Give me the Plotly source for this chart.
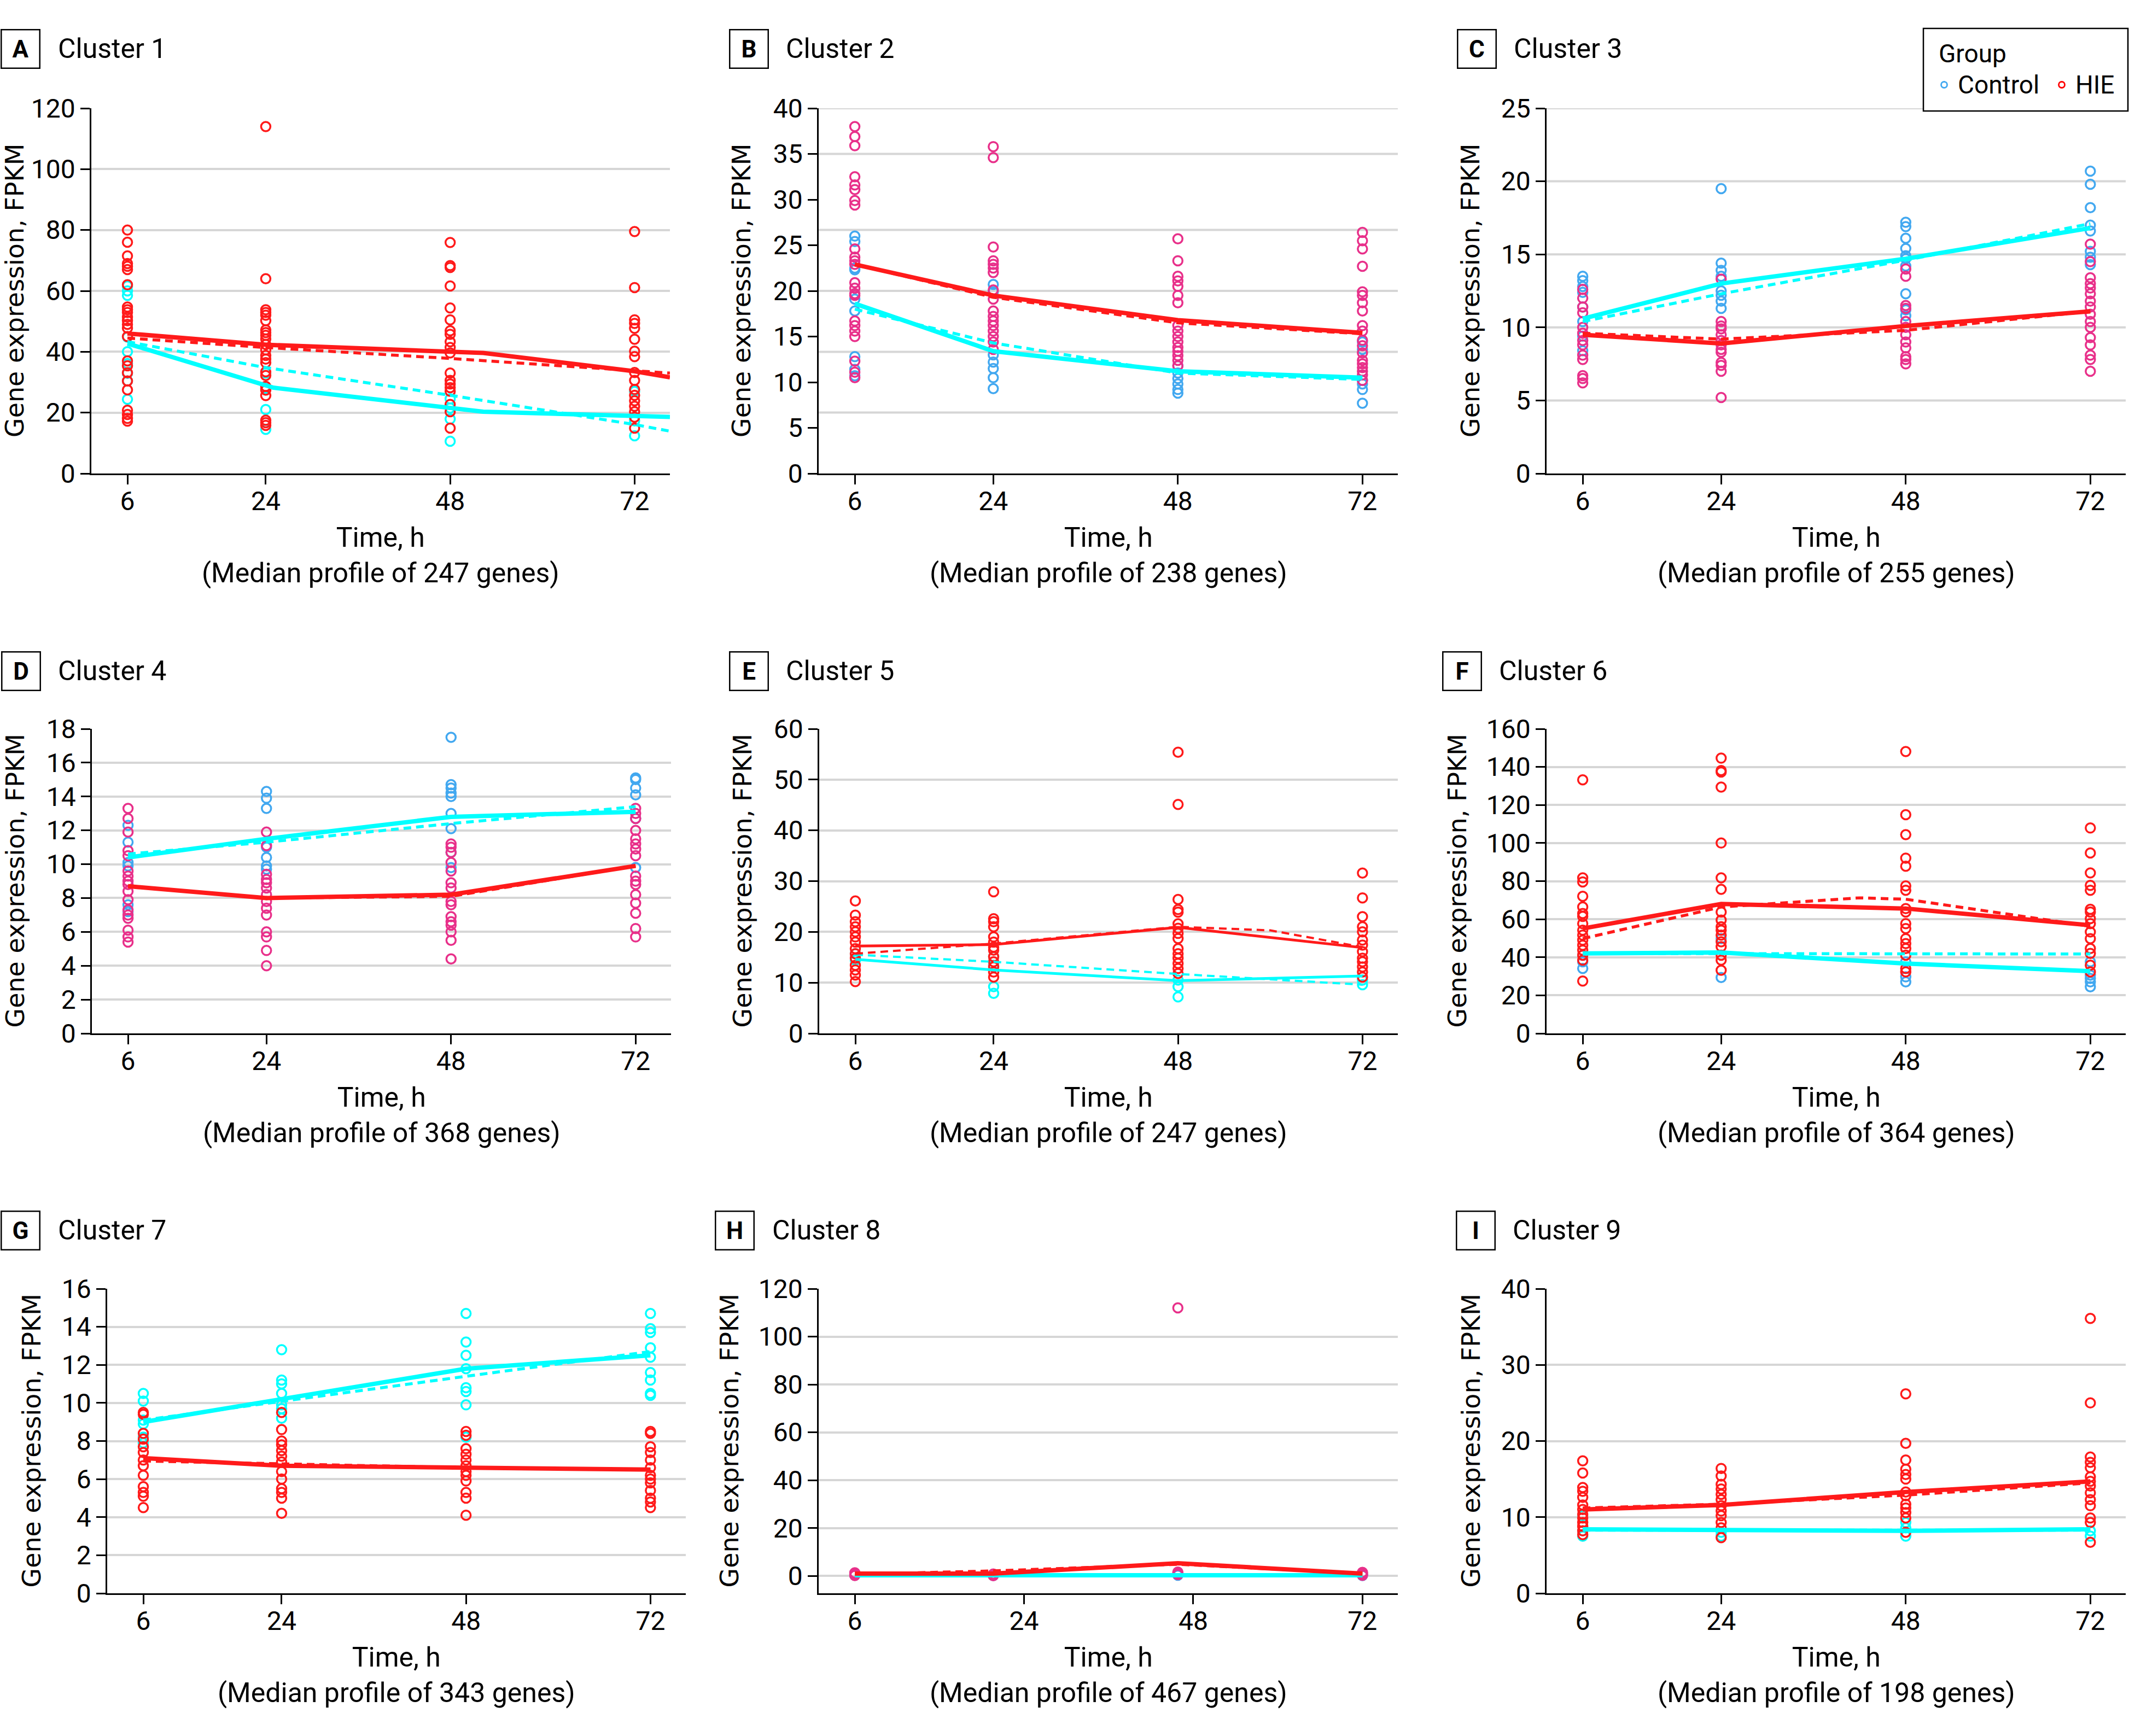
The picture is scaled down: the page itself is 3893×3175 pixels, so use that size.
import plotly.graph_objects as go

W, H = 3893, 3175
TIMES = [6, 24, 48, 72]

# ---------------- DATA ----------------
# Cluster 1 (A)
c1_ctrl = [[61.6, 60, 58.5, 44.8, 40, 36.1, 32.9, 30.4, 24.4],
           [33, 28, 21, 14.5],
           [24.5, 21.5, 17.9, 10.6],
           [27, 17.3, 12.4]]
c1_hie = [[80, 76, 71.5, 69, 68.1, 67, 62, 54.7, 53.8, 52.9, 51.4, 50.2, 49, 47.8, 45, 37, 35.4, 33.1, 30.4, 27.5, 20.8, 19.4, 18.1, 17.2],
          [114, 64, 53.8, 52.9, 52, 50.2, 47.2, 46.3, 45.4, 44.2, 42.4, 40.6, 38.8, 37.6, 36.4, 33.4, 32.2, 28.6, 27.4, 25.6, 17.5, 16.7, 15.8],
          [75.9, 68.3, 67.7, 61.6, 54.4, 50.5, 46.9, 45.7, 43.3, 41.4, 39.6, 33, 30.6, 29.4, 28.2, 27, 22.7, 20.3, 14.9],
          [79.5, 61.1, 50.5, 49.3, 47.7, 44.1, 40.2, 38.4, 33.2, 30.6, 27.6, 25.7, 23.9, 22.1, 20.3, 18.5, 14.9]]
c1_hie_solid_t = [6, 24, 52.3, 72, 76.6]
c1_hie_solid = [46, 42.3, 39.6, 33.6, 31.6]
c1_hie_dash_t = [6, 24, 48, 72, 76.6]
c1_hie_dash = [44.5, 41.4, 37.8, 33.8, 33.0]
c1_ctrl_solid_t = [6, 25, 52.3, 72, 76.6]
c1_ctrl_solid = [42.7, 28.2, 20.3, 19.1, 18.6]
c1_ctrl_dash_t = [6, 24, 48, 72, 76.6]
c1_ctrl_dash = [43.3, 34.8, 25.7, 16.1, 13.9]

# Cluster 2 (B)
c2_ctrl = [[26, 25.4, 22.5, 22.3, 19.1, 17.8, 12.8, 11.4, 10.7],
           [20.7, 19.9, 13, 12.2, 11.5, 10.5, 9.3],
           [11.8, 11, 10.4, 9.8, 9.2, 8.8],
           [14.4, 13.6, 10.2, 9.8, 9.2, 7.7]]
c2_hie = [[38, 36.9, 35.9, 32.5, 31.6, 31.1, 29.9, 29.4, 24.6, 23.7, 23.3, 22.9, 20.9, 20.3, 19.7, 19.5, 16.7, 16.2, 15.6, 15, 12.3, 11.1, 10.5],
          [35.8, 34.6, 24.8, 23.3, 22.9, 22.5, 22, 20.1, 19.1, 17.8, 17.2, 16.7, 16.2, 15.6, 15, 14.4, 13.6],
          [25.7, 23.3, 21.6, 21.1, 20.5, 19.5, 18.7, 16.2, 15.6, 15, 14.4, 13.8, 13.4, 12.9, 12.4, 11.8],
          [26.4, 25.5, 24.6, 22.7, 19.9, 19.5, 18.7, 17.8, 16.2, 15.6, 14.6, 14, 13.2, 12.4, 12, 11.6, 11.2, 10.8, 10.2]]
c2_hie_solid = [22.9, 19.5, 16.8, 15.4]
c2_hie_dash = [22.9, 19.3, 16.5, 15.3]
c2_ctrl_solid = [18.6, 13.4, 11.2, 10.5]
c2_ctrl_dash = [18.0, 14.3, 11.0, 10.3]
c2_grid = [40, 35, 26.67, 20, 13.33, 6.67]

# Cluster 3 (C)
c3_ctrl = [[13.5, 13.2, 12.8, 12.4, 11.4, 10.4, 9.4, 8.4],
           [19.5, 14.4, 13.9, 13.5, 12.5, 12.2, 11.8, 11.3],
           [17.2, 16.9, 16.1, 15.4, 14.9, 14.7, 14.2, 12.3, 11.2, 10.8],
           [20.7, 19.8, 18.2, 17, 16.6, 15.2, 14.8, 14.3]]
c3_hie = [[12.6, 12, 11.4, 11, 10, 9.6, 9.1, 8.8, 8.1, 7.8, 6.7, 6.5, 6.2],
          [13.3, 10.4, 10.1, 9.9, 9.5, 9.1, 8.8, 8.5, 8.3, 7.6, 7.4, 7, 5.2],
          [14, 13.5, 11.5, 11.3, 10.4, 10, 9.5, 9, 8.6, 8, 7.8, 7.5],
          [15.7, 14.5, 13.4, 13, 12.7, 12.3, 11.8, 11.4, 10.9, 10.4, 10, 9.3, 8.8, 8.1, 7.8, 7]]
c3_ctrl_solid = [10.6, 13.0, 14.7, 16.8]
c3_ctrl_dash = [10.4, 12.3, 14.6, 17.1]
c3_hie_solid = [9.5, 8.9, 10.1, 11.1]
c3_hie_dash = [9.6, 9.2, 9.8, 11.1]
c3_grid = [5, 10, 15, 20, 25]

# Cluster 4 (D)
c4_ctrl = [[12.3, 11.3, 10.1, 9.9, 7.6, 7.2],
           [14.3, 13.9, 13.3, 11, 10.4, 9.9, 9.7],
           [17.5, 14.7, 14.5, 14.2, 14, 13, 12.1, 10.7, 9.8],
           [15.1, 15, 14.5, 14.1, 12.7, 9.8]]
c4_hie = [[13.3, 12.7, 11.9, 10.8, 10.5, 9.6, 9.3, 9, 8.8, 8.4, 7.9, 7.3, 7, 6.8, 6.1, 5.7, 5.4],
          [11.9, 11.1, 9.4, 9.1, 8.9, 8.6, 8.2, 7.8, 7.4, 7, 6, 5.7, 4.9, 4],
          [11.2, 11, 10.7, 10.1, 9.6, 8.9, 8.6, 7.8, 7.6, 6.9, 6.6, 6.4, 6, 5.5, 4.4],
          [13.3, 13, 12.7, 12, 11.5, 11.2, 10.9, 10.5, 9.3, 9, 8.8, 8.2, 7.7, 7.1, 6.2, 5.7]]
c4_ctrl_solid = [10.4, 11.5, 12.8, 13.1]
c4_ctrl_dash = [10.6, 11.3, 12.4, 13.4]
c4_hie_solid = [8.7, 8.0, 8.2, 9.9]
c4_hie_dash = [8.7, 8.0, 8.1, 9.9]

# Cluster 5 (E)
c5_ctrl = [[15.7, 14.4], [15.1, 13.4, 9.2, 7.9], [10.5, 9.2, 7.2], [10.5, 9.6]]
c5_hie = [[26.1, 23.3, 22, 21, 20, 19, 18, 16.7, 15.7, 14.8, 13.4, 12.5, 11.5, 10.2],
          [27.9, 22.6, 22, 21, 19, 18, 17, 16.4, 15.1, 14.1, 13.1, 12.1, 11.1],
          [55.4, 45.1, 26.4, 24.4, 23.9, 21.6, 20.7, 19.7, 18.7, 16.7, 15.7, 14.8, 13.8, 12.8, 11.8],
          [31.6, 26.7, 23, 21, 20, 18.4, 17.4, 16.1, 14.8, 14.1, 13.1, 12.1, 11.1]]
c5_hie_solid = [17.2, 17.5, 20.9, 16.9]
c5_hie_dash_t = [6, 24, 48, 60, 72]
c5_hie_dash = [15.7, 17.7, 21.0, 20.3, 17.0]
c5_ctrl_solid = [14.6, 12.5, 10.4, 11.3]
c5_ctrl_dash = [15.5, 14.1, 11.7, 9.6]

# Cluster 6 (F)
c6_ctrl = [[41.1, 37.6, 34.1], [49.8, 29.4], [37.6, 29.7, 27.1], [37.6, 30.6, 28.9, 27.1, 24.5]]
c6_hie = [[133.2, 81.7, 79.6, 72, 66.4, 63, 61.5, 57.7, 54.2, 51.6, 49, 46.3, 43.7, 41.1, 38.5, 27.5],
          [144.6, 138.1, 137.3, 129.4, 100, 81.7, 75.7, 63.8, 59.5, 56, 54.2, 51.6, 48.1, 45.5, 41.1, 38.5, 33.2],
          [148.1, 114.9, 104.4, 92.1, 87.8, 77.5, 75.2, 65.6, 63.8, 57.7, 55.1, 49.8, 47.2, 44.6, 41.1, 34.1, 32.3],
          [107.9, 94.8, 84.3, 77.8, 75.2, 65.2, 63.8, 60.3, 57.7, 53.3, 49.8, 44.6, 42, 35.8, 32.3]]
c6_hie_solid = [55.1, 68.0, 65.6, 56.8]
c6_hie_dash_t = [6, 24, 42, 48, 72]
c6_hie_dash = [49.8, 66.4, 71.2, 70.5, 56.3]
c6_ctrl_solid = [42.0, 42.5, 36.7, 32.7]
c6_ctrl_dash = [42.0, 42.0, 41.8, 41.7]

# Cluster 7 (G)
c7_ctrl = [[10.5, 10.1, 9.1, 8.9, 8.2, 7.9],
           [12.8, 11.2, 11, 10.5, 9.9, 9.7, 9.2],
           [14.7, 13.2, 12.5, 11.8, 10.8, 10.6, 9.9, 8.2],
           [14.7, 13.9, 13.7, 12.9, 12.4, 11.6, 11.2, 10.5, 10.4]]
c7_hie = [[9.5, 9.4, 8.4, 8.1, 7.7, 7.4, 7, 6.7, 6.2, 5.6, 5.3, 5.1, 4.5],
          [9.5, 8.6, 8, 7.8, 7.5, 7.2, 6.9, 6.4, 6, 5.5, 5.3, 5, 4.2],
          [8.5, 8.3, 7.6, 7.3, 7, 6.7, 6.4, 6.2, 5.9, 5.3, 5, 4.1],
          [8.5, 8.4, 7.7, 7.4, 7, 6.6, 6.2, 6, 5.8, 5.4, 5, 4.8, 4.5]]
c7_ctrl_solid = [9.0, 10.2, 11.8, 12.5]
c7_ctrl_dash = [9.1, 10.1, 11.4, 12.7]
c7_hie_solid = [7.1, 6.7, 6.6, 6.5]
c7_hie_dash = [6.95, 6.8, 6.6, 6.5]

# Cluster 8 (H)
c8_ctrl = [[0.3, 0.6], [0.2, 0.4], [0.3, 0.7], [0.2, 0.5]]
c8_hie = [[0.2, 0.5, 0.9, 1.3], [0.1, 0.4, 0.8], [112, 0.6, 1.1, 1.6], [0.3, 0.7, 1.1, 1.5]]
c8_hie_solid = [1.0, 1.0, 5.3, 1.0]
c8_hie_dash = [0.7, 2.1, 4.9, 1.0]
c8_ctrl_solid = [0.3, 0.3, 0.3, 0.3]
c8_ctrl_dash = [0.2, 0.3, 0.3, 0.2]
c8_tickvals = [6, 28, 50, 72]

# Cluster 9 (I)
c9_ctrl = [[10.2, 8.2, 7.5], [8, 7.5], [9.3, 8.6, 7.5], [8.2, 7.5]]
c9_hie = [[17.4, 15.8, 13.9, 13.4, 12.6, 11.6, 11, 10.4, 9.9, 9.3, 8.8, 8.2, 7.7],
          [16.4, 15.4, 14.3, 13.7, 13, 12.3, 11.5, 10.8, 10.2, 9.3, 8.6, 7.3],
          [26.2, 19.7, 17.5, 16.3, 15.6, 15, 13.3, 12.8, 11.7, 11.2, 10.6, 9.9, 8],
          [36.1, 25, 17.9, 17.2, 16.5, 15.3, 14.7, 14.1, 13.2, 12.3, 11.5, 9.9, 9.3, 6.7]]
c9_hie_solid = [11.0, 11.6, 13.3, 14.7]
c9_hie_dash = [11.2, 11.7, 12.9, 14.5]
c9_ctrl_solid = [8.4, 8.3, 8.2, 8.4]
c9_ctrl_dash = [8.3, 8.3, 8.3, 8.3]

letters = ["A", "B", "C", "D", "E", "F", "G", "H", "I"]
titles = ["Cluster 1", "Cluster 2", "Cluster 3", "Cluster 4", "Cluster 5",
          "Cluster 6", "Cluster 7", "Cluster 8", "Cluster 9"]
gene_counts = [247, 238, 255, 368, 247, 364, 343, 467, 198]
y_max = [120, 40, 25, 18, 60, 160, 16, 120, 40]
y_step = [20, 5, 5, 2, 10, 20, 2, 20, 10]
legend_names = ["Control", "HIE"]

# ---------------- STYLE / LAYOUT ----------------
CYAN = "#00FFFF"
LBLUE = "#42A8F0"
RED = "#FF1A1A"
PINK = "#E8308A"
GRID = "#D6D6D6"
FONT = "Roboto"
YFONT = "DejaVu Sans"

# pixel boxes: (x0, x1, ytop, ybottom)
boxes = [(167, 1225, 198, 866), (1497, 2556, 198, 866), (2828, 3887, 198, 866),
         (168, 1227, 1333, 1890), (1498, 2556, 1333, 1890), (2828, 3887, 1333, 1890),
         (196, 1254, 2357, 2914), (1497, 2556, 2357, 2914), (2828, 3887, 2357, 2914)]
label_cx = [37, 1369, 2700, 38, 1369, 2673, 37, 1343, 2698]
title_x = [104, 1435, 2766, 104, 1435, 2739, 104, 1410, 2764]
row_label_y = [89, 89, 89, 1227, 1227, 1227, 2250, 2250, 2250]
ytitle_x = [27, 1356, 2689, 27, 1357, 2664, 57, 1333, 2689]
xtitle_off = 149
LEG = (3517, 3891, 52, 203)  # legend box in px: x0, x1, ytop, ybottom

point_colors = [(CYAN, RED), (LBLUE, PINK), (LBLUE, PINK),
                (LBLUE, PINK), (CYAN, RED), (LBLUE, RED),
                (CYAN, RED), (LBLUE, PINK), (CYAN, RED)]

panels = [
    dict(ctrl=c1_ctrl, hie=c1_hie,
         cs=(c1_ctrl_solid_t, c1_ctrl_solid), cd=(c1_ctrl_dash_t, c1_ctrl_dash),
         hs=(c1_hie_solid_t, c1_hie_solid), hd=(c1_hie_dash_t, c1_hie_dash)),
    dict(ctrl=c2_ctrl, hie=c2_hie, cs=(TIMES, c2_ctrl_solid), cd=(TIMES, c2_ctrl_dash),
         hs=(TIMES, c2_hie_solid), hd=(TIMES, c2_hie_dash)),
    dict(ctrl=c3_ctrl, hie=c3_hie, cs=(TIMES, c3_ctrl_solid), cd=(TIMES, c3_ctrl_dash),
         hs=(TIMES, c3_hie_solid), hd=(TIMES, c3_hie_dash)),
    dict(ctrl=c4_ctrl, hie=c4_hie, cs=(TIMES, c4_ctrl_solid), cd=(TIMES, c4_ctrl_dash),
         hs=(TIMES, c4_hie_solid), hd=(TIMES, c4_hie_dash)),
    dict(ctrl=c5_ctrl, hie=c5_hie, cs=(TIMES, c5_ctrl_solid), cd=(TIMES, c5_ctrl_dash),
         hs=(TIMES, c5_hie_solid), hd=(c5_hie_dash_t, c5_hie_dash)),
    dict(ctrl=c6_ctrl, hie=c6_hie, cs=(TIMES, c6_ctrl_solid), cd=(TIMES, c6_ctrl_dash),
         hs=(TIMES, c6_hie_solid), hd=(c6_hie_dash_t, c6_hie_dash)),
    dict(ctrl=c7_ctrl, hie=c7_hie, cs=(TIMES, c7_ctrl_solid), cd=(TIMES, c7_ctrl_dash),
         hs=(TIMES, c7_hie_solid), hd=(TIMES, c7_hie_dash)),
    dict(ctrl=c8_ctrl, hie=c8_hie, cs=(TIMES, c8_ctrl_solid), cd=(TIMES, c8_ctrl_dash),
         hs=(TIMES, c8_hie_solid), hd=(TIMES, c8_hie_dash)),
    dict(ctrl=c9_ctrl, hie=c9_hie, cs=(TIMES, c9_ctrl_solid), cd=(TIMES, c9_ctrl_dash),
         hs=(TIMES, c9_hie_solid), hd=(TIMES, c9_hie_dash)),
]


def px_x(v):
    return v / W


def px_y(v):
    return 1 - v / H


def pts(groups):
    xs, ys = [], []
    for t, vals in zip(TIMES, groups):
        xs += [t] * len(vals)
        ys += vals
    return xs, ys


fig = go.Figure()
annotations = []
shapes = []
layout = {}

for i, p in enumerate(panels):
    n = i + 1
    xa = "x" if n == 1 else f"x{n}"
    ya = "y" if n == 1 else f"y{n}"
    x0, x1, yt, yb = boxes[i]
    ccol, hcol = point_colors[i]
    solid_w = 5 if n == 5 else 8
    dash_w = 4 if n == 5 else 5.5

    cx, cy = pts(p["ctrl"])
    hx, hy = pts(p["hie"])
    mk = dict(symbol="circle-open", size=17)
    fig.add_trace(go.Scatter(x=cx, y=cy, mode="markers", xaxis=xa, yaxis=ya, showlegend=False,
                             name="Control", marker=dict(color=ccol, line=dict(width=3.5, color=ccol), **mk)))
    fig.add_trace(go.Scatter(x=hx, y=hy, mode="markers", xaxis=xa, yaxis=ya, showlegend=False,
                             name="HIE", marker=dict(color=hcol, line=dict(width=3.5, color=hcol), **mk)))
    fig.add_trace(go.Scatter(x=p["cd"][0], y=p["cd"][1], mode="lines", xaxis=xa, yaxis=ya,
                             showlegend=False, line=dict(color=CYAN, width=dash_w, dash="14px,9px")))
    fig.add_trace(go.Scatter(x=p["hd"][0], y=p["hd"][1], mode="lines", xaxis=xa, yaxis=ya,
                             showlegend=False, line=dict(color=RED, width=dash_w, dash="14px,9px")))
    fig.add_trace(go.Scatter(x=p["cs"][0], y=p["cs"][1], mode="lines", xaxis=xa, yaxis=ya,
                             showlegend=False, line=dict(color=CYAN, width=solid_w)))
    fig.add_trace(go.Scatter(x=p["hs"][0], y=p["hs"][1], mode="lines", xaxis=xa, yaxis=ya,
                             showlegend=False, line=dict(color=RED, width=solid_w)))

    tickvals_x = c8_tickvals if n == 8 else TIMES
    xaxis = dict(domain=[px_x(x0), px_x(x1)], range=[1.3, 76.6], anchor=ya,
                 tickvals=tickvals_x, ticktext=[str(t) for t in TIMES],
                 showgrid=False, zeroline=False, showline=True, linecolor="black", linewidth=2.5,
                 ticks="outside", ticklen=17, tickwidth=2.5, tickcolor="black", ticklabelstandoff=-10,
                 tickfont=dict(family=FONT, size=48, color="black"), automargin=False)
    ymin = -7.24 if n == 8 else 0
    yvals = list(range(0, y_max[i] + 1, y_step[i]))
    yaxis = dict(domain=[px_y(yb), px_y(yt)], range=[ymin, y_max[i]], anchor=xa,
                 tickvals=yvals, showgrid=(n not in (2, 3)), gridcolor=GRID, gridwidth=4,
                 zeroline=False, showline=True, linecolor="black", linewidth=2.5,
                 ticks="outside", ticklen=17, tickwidth=2.5, tickcolor="black",
                 tickfont=dict(family=FONT, size=48, color="black"), automargin=False)
    layout["xaxis" if n == 1 else f"xaxis{n}"] = xaxis
    layout["yaxis" if n == 1 else f"yaxis{n}"] = yaxis

    if n == 2:
        for g in c2_grid:
            shapes.append(dict(type="line", xref="x2 domain", yref="y2", x0=0, x1=1, y0=g, y1=g,
                               line=dict(color=GRID, width=4), layer="below"))
    if n == 3:
        # top gridline is hidden behind the legend box
        leg_frac = (LEG[0] - x0) / (x1 - x0)
        for g in c3_grid:
            shapes.append(dict(type="line", xref="x3 domain", yref="y3", x0=0,
                               x1=(leg_frac if g == y_max[i] else 1), y0=g, y1=g,
                               line=dict(color=GRID, width=4), layer="below"))

    # panel letter box
    annotations.append(dict(x=px_x(label_cx[i]), y=px_y(row_label_y[i]), xref="paper", yref="paper",
                            text=f"<b>{letters[i]}</b>", showarrow=False, xanchor="center", yanchor="middle",
                            width=68, height=68, borderpad=0, bordercolor="black", borderwidth=2.5,
                            font=dict(family=FONT, size=44, color="black")))
    annotations.append(dict(x=px_x(title_x[i]), y=px_y(row_label_y[i]), xref="paper", yref="paper",
                            text=titles[i], showarrow=False, xanchor="left", yanchor="middle",
                            font=dict(family=FONT, size=50, color="black")))
    # y title
    annotations.append(dict(x=px_x(ytitle_x[i]), y=px_y((yt + yb) / 2), xref="paper", yref="paper",
                            text="Gene expression, FPKM", textangle=-90, showarrow=False,
                            xanchor="center", yanchor="middle",
                            font=dict(family=YFONT, size=46, color="black")))
    # x title
    annotations.append(dict(x=px_x((x0 + x1) / 2), y=px_y(yb + xtitle_off), xref="paper", yref="paper",
                            text=f"Time, h<br>(Median profile of {gene_counts[i]} genes)",
                            showarrow=False, xanchor="center", yanchor="middle",
                            font=dict(family=FONT, size=50, color="black")))

# ---------------- LEGEND (box with title, symbols and labels) ----------------
lx0, lx1, lyt, lyb = LEG
shapes.append(dict(type="rect", xref="paper", yref="paper",
                   x0=px_x(lx0), x1=px_x(lx1), y0=px_y(lyb), y1=px_y(lyt),
                   line=dict(color="black", width=2.5), fillcolor="rgba(0,0,0,0)", layer="above"))
# a small hidden axis pair inside the legend box holds the legend symbols (offsets in px from box top-left)
layout["xaxis10"] = dict(domain=[px_x(lx0), px_x(lx1)], range=[0, lx1 - lx0], visible=False,
                         fixedrange=True, anchor="y10")
layout["yaxis10"] = dict(domain=[px_y(lyb), px_y(lyt)], range=[lyb - lyt, 0], visible=False,
                         fixedrange=True, anchor="x10")
legend_sym_x = [38, 253]
legend_sym_y = 103
legend_cols = [LBLUE, "#FF0000"]
for name, sx, col in zip(legend_names, legend_sym_x, legend_cols):
    fig.add_trace(go.Scatter(x=[sx], y=[legend_sym_y], mode="markers", xaxis="x10", yaxis="y10",
                             name=name, showlegend=False, hoverinfo="skip",
                             marker=dict(symbol="circle-open", size=11, color=col,
                                         line=dict(width=2.8, color=col))))
annotations.append(dict(x=px_x(3543), y=px_y(98), xref="paper", yref="paper", text="Group",
                        showarrow=False, xanchor="left", yanchor="middle",
                        font=dict(family=FONT, size=46, color="black")))
for name, tx in zip(legend_names, [3578, 3793]):
    annotations.append(dict(x=px_x(tx), y=px_y(155), xref="paper", yref="paper", text=name,
                            showarrow=False, xanchor="left", yanchor="middle",
                            font=dict(family=FONT, size=46, color="black")))

fig.update_layout(
    width=W, height=H, margin=dict(l=0, r=0, t=0, b=0, pad=0, autoexpand=False),
    paper_bgcolor="white", plot_bgcolor="white", showlegend=False,
    annotations=annotations, shapes=shapes,
    **layout,
)

fig.write_html("out.html", config={"displayModeBar": False},
               post_script="document.body.style.margin='0';")
